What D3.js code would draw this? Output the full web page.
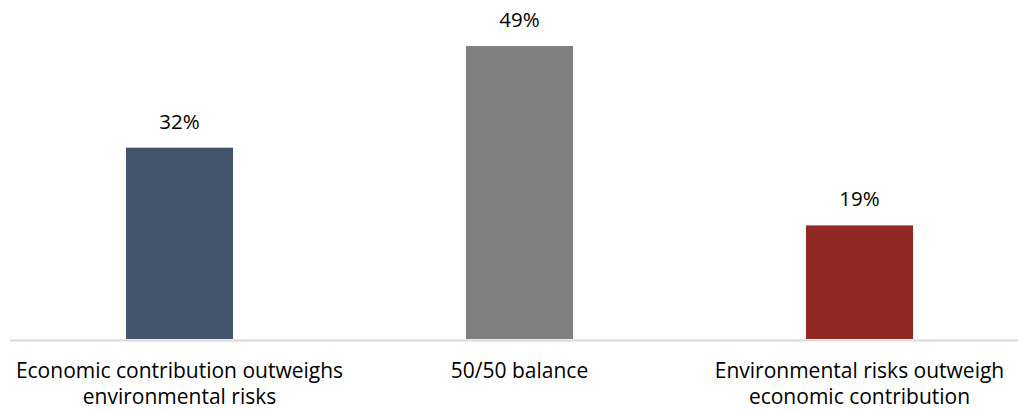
<!DOCTYPE html>
<html><head><meta charset="utf-8">
<script src="https://cdn.jsdelivr.net/npm/d3@7"></script>
<style>html,body{margin:0;padding:0;background:#fff;}svg{display:block;}</style>
</head><body>
<svg id="c" width="1018" height="410"></svg>
<script>
const categories = ["Economic contribution outweighs environmental risks", "50/50 balance", "Environmental risks outweigh economic contribution"];
const labelLines = [["Economic contribution outweighs", "environmental risks"], ["50/50 balance"], ["Environmental risks outweigh", "economic contribution"]];
const values = [32, 49, 19];
const colors = ["#44546A", "#808080", "#922823"];

const svg = d3.select("#c");
const font = "'Open Sans', sans-serif";
const x = d3.scaleBand().domain(categories).range([9.5, 1029.5]).paddingInner(0.685).paddingOuter(0.3425);
const y = d3.scaleLinear().domain([0, 49]).range([339, 46]);

svg.selectAll("rect.bar").data(values).join("rect")
  .attr("class", "bar")
  .attr("x", (d, i) => x(categories[i]))
  .attr("width", x.bandwidth())
  .attr("y", d => y(d))
  .attr("height", d => y(0) - y(d))
  .attr("fill", (d, i) => colors[i]);

const ax = svg.append("g").attr("transform", "translate(0,340)")
  .call(d3.axisBottom(x).tickSize(0).tickFormat(""));
ax.select(".domain").attr("stroke", "#D9D9D9").attr("stroke-width", 2);

svg.selectAll("text.val").data(values).join("text")
  .attr("class", "val")
  .attr("x", (d, i) => x(categories[i]) + x.bandwidth() / 2)
  .attr("y", d => y(d) - 19)
  .attr("text-anchor", "middle")
  .attr("font-family", font).attr("font-size", 20.5).attr("fill", "#000")
  .text(d => d + "%");

categories.forEach((c, i) => {
  const t = svg.append("text")
    .attr("x", x(c) + x.bandwidth() / 2)
    .attr("y", 378)
    .attr("text-anchor", "middle")
    .attr("font-family", font).attr("font-size", 21).attr("fill", "#000");
  labelLines[i].forEach((ln, j) => {
    t.append("tspan").attr("x", x(c) + x.bandwidth() / 2).attr("dy", j === 0 ? 0 : 26).text(ln);
  });
});
</script>
</body></html>
